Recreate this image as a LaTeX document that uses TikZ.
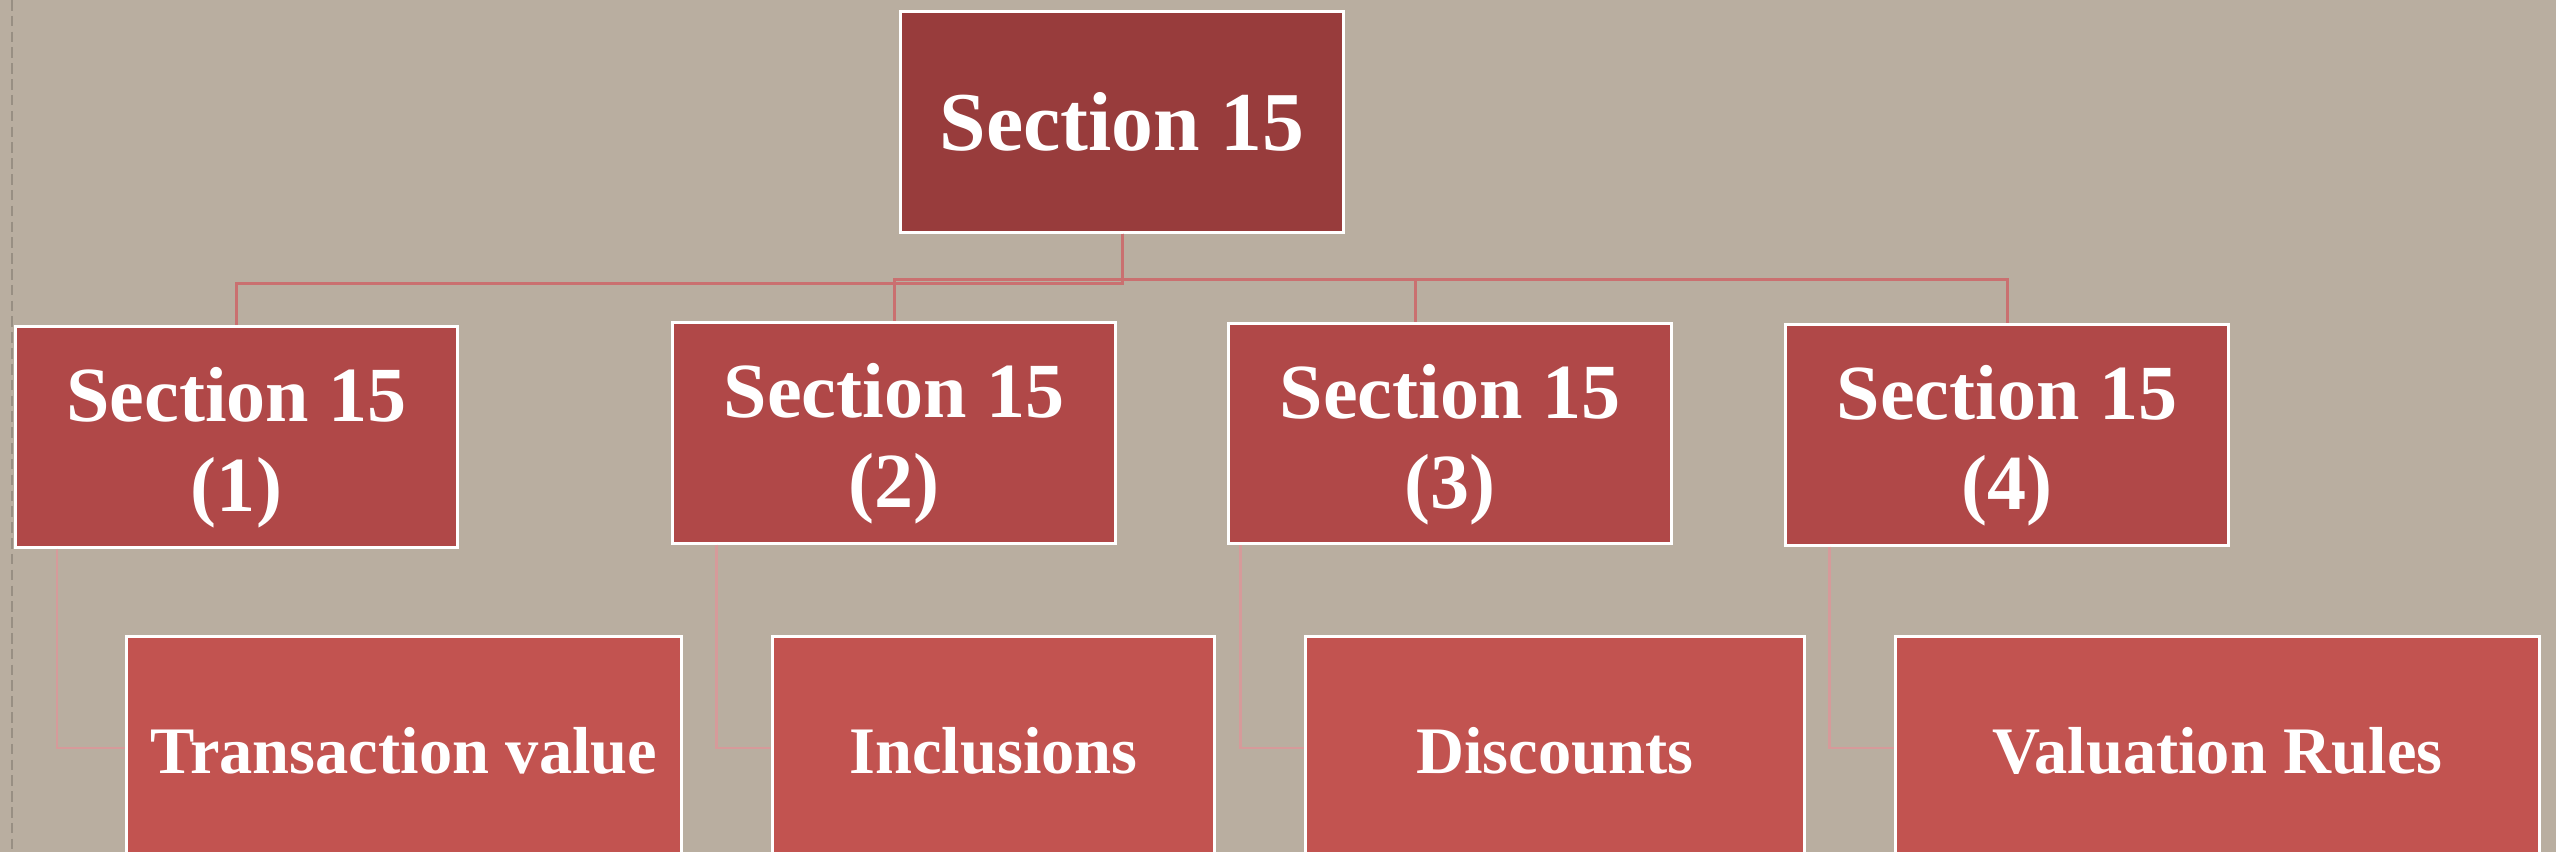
\documentclass[tikz,border=0pt]{standalone}
\usepackage{fontspec}
\setmainfont{Liberation Serif}
\definecolor{bg}{HTML}{B9AEA0}
\definecolor{stitch}{HTML}{988F83}
\definecolor{topc}{HTML}{983C3C}
\definecolor{midc}{HTML}{B04848}
\definecolor{lowc}{HTML}{C25350}
\definecolor{connA}{HTML}{CA7070}
\definecolor{connB}{HTML}{D69A9A}
\tikzset{
  box/.style={draw=white, line width=0.85pt, inner sep=0pt, text=white, align=center, font=\bfseries},
  topbox/.style={box, fill=topc, minimum width=4.42cm, minimum height=2.2cm, font=\bfseries\fontsize{23.8}{27}\selectfont},
  midbox/.style={box, fill=midc, minimum width=4.42cm, minimum height=2.2cm},
  midtxt/.style={inner sep=0pt, text=white, align=center, font=\bfseries\fontsize{22.2}{25.5}\selectfont},
  lowbox/.style={box, fill=lowc, minimum height=2.28cm, font=\bfseries\fontsize{18.9}{22}\selectfont},
  connhi/.style={draw=connA, line width=0.85pt},
  connlo/.style={draw=connB, line width=0.65pt},
}
\begin{document}
\begin{tikzpicture}[x=0.01cm, y=-0.01cm]
\fill[bg] (0,0) rectangle (2556,852);
\useasboundingbox (0,0) rectangle (2556,852);
\draw[stitch, line width=0.8pt, dash pattern=on 3pt off 1.5pt] (12,0) -- (12,852);

\node[topbox] (top) at (1122,122) {Section 15};
\node[midbox] (b1) at (236.5,437) {};
\node[midbox] (b2) at (894,433) {};
\node[midbox] (b3) at (1450,433.5) {};
\node[midbox] (b4) at (2007,435) {};
\node[midtxt] (t1) at ([yshift=-0.11cm]b1.center) {Section 15\\(1)};
\node[midtxt] (t2) at ([yshift=-0.11cm]b2.center) {Section 15\\(2)};
\node[midtxt] (t3) at ([yshift=-0.11cm]b3.center) {Section 15\\(3)};
\node[midtxt] (t4) at ([yshift=-0.11cm]b4.center) {Section 15\\(4)};
\node[lowbox, minimum width=5.54cm] (c1) at (404,751) {Transaction value};
\node[lowbox, minimum width=4.41cm] (c2) at (993.5,751) {Inclusions};
\node[lowbox, minimum width=4.98cm] (c3) at (1555,751) {Discounts};
\node[lowbox, minimum width=6.43cm] (c4) at (2217.5,751) {Valuation Rules};

\draw[connhi] (top.south) -- ++(0,50) -| (b1.north);
\draw[connhi] (top.south) -- ++(0,46) -| (b2.north);
\draw[connhi] (top.south) -- ++(0,46) -| ([xshift=-0.34cm]b3.north);
\draw[connhi] (top.south) -- ++(0,46) -| (b4.north);

\draw[connlo] ([xshift=0.43cm]b1.south west) |- ([yshift=0.03cm]c1.west);
\draw[connlo] ([xshift=0.45cm]b2.south west) |- ([yshift=0.03cm]c2.west);
\draw[connlo] ([xshift=0.13cm]b3.south west) |- ([yshift=0.03cm]c3.west);
\draw[connlo] ([xshift=0.45cm]b4.south west) |- ([yshift=0.03cm]c4.west);
\end{tikzpicture}
\end{document}
